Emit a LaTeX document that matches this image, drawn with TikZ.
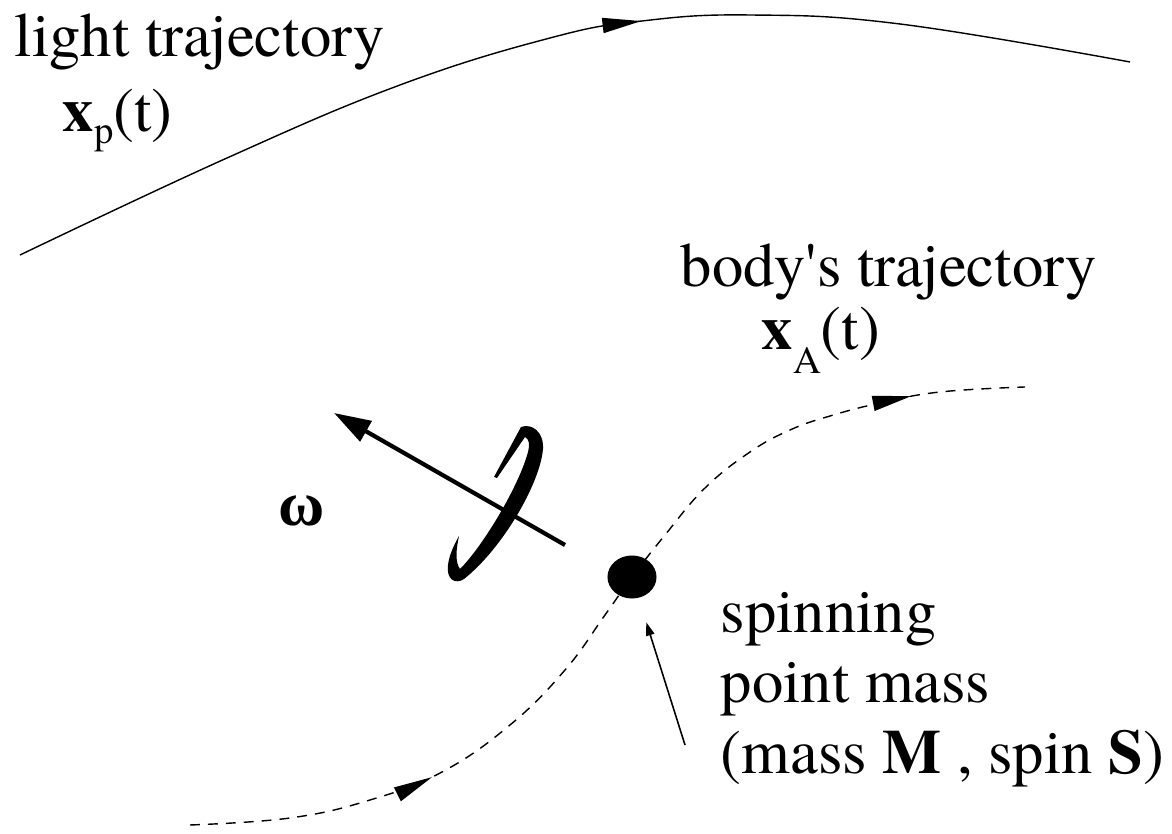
\documentclass[tikz,border=0pt]{standalone}
\usepackage{fontspec}
\setmainfont{texgyretermes}[Extension=.otf, UprightFont=*-regular, BoldFont=*-bold]
\newfontfamily\omegafont{Liberation Serif}
\usepackage{tikz}
\usetikzlibrary{arrows.meta,decorations.markings,shapes.geometric}

\tikzset{
  lbl/.style={inner sep=0pt, anchor=base west, font=\fontsize{17.8}{20}\selectfont},
  traj/.style={black, line width=0.4pt},
  bodytraj/.style={traj, dash pattern=on 2.8pt off 2.3pt},
  midtip/.style={postaction={decorate, decoration={markings,
      mark=at position #1 with {\arrow{Triangle[length=11pt,width=4.3pt]}}}}},
  spinaxis/.style={black, line width=1.2pt, -{Triangle[length=10.5pt,width=6.5pt]}},
  pointer/.style={black, line width=0.45pt, -{Triangle[length=3.8pt,width=2.4pt]}, shorten >=0.25cm},
}

\begin{document}
\begin{tikzpicture}[x=0.01cm, y=-0.01cm]
 \useasboundingbox (0,0) rectangle (1172,834);
% light ray
 \draw[traj, midtip=0.575] plot[smooth, tension=0.7] coordinates
      {(20,255) (227,158) (400,85) (550,38) (642,21) (750,15) (900,24) (1130,62)};
% body's path
 \draw[bodytraj, midtip=0.25, midtip=0.885] plot[smooth, tension=0.7] coordinates
      {(190,825) (290,818) (370,800) (442,772) (510,725) (565,670) (605,615) (632,577)
       (665,535) (705,488) (750,452) (790,430) (830,416) (880,403) (940,392) (1025,387)};
 \node[ellipse, fill=black, inner sep=0pt, minimum width=0.49cm, minimum height=0.43cm] (mass) at (632,577) {};
% rotation sense
 \fill[black] (494,477) -- (521,427) .. controls (532,423) and (544,432) .. (543,449)
      .. controls (540,484) and (502,549) .. (464,579)
      .. controls (455,585) and (446,579) .. (448,565)
      .. controls (449,555) and (455,543) .. (459,536)
      .. controls (456,550) and (455,562) .. (460,569)
      .. controls (483,546) and (519,486) .. (528,452)
      .. controls (530,444) and (529,439) .. (525,437) -- (497,478) -- cycle;
 \coordinate (axtail) at (565,545);
 \coordinate (axtip) at (334,413);
 \draw[spinaxis] (axtail) -- (axtip);
 \node[lbl, anchor=center, font=\fontsize{18}{18}\selectfont\omegafont\bfseries] (omega) at (302,511) {ω};
% labels
 \node[lbl] (light) at (14,57) {light trajectory};
 \node[lbl] (xp) at (62,132) {\textbf{x}\raisebox{-3.4pt}{\fontsize{11}{11}\selectfont p}(t)};
 \node[lbl] (body) at (680,287) {body\textquotesingle s trajectory};
 \node[lbl] (xa) at (761,350) {\textbf{x}\raisebox{-6.8pt}{\fontsize{11}{11}\selectfont A}(t)};
 \node[lbl] (spin) at (720,633) {spinning};
 \node[lbl] (pmass) at (720,703) {point mass};
 \node[lbl] (mparam) at (720,774) {(mass \textbf{M} , spin \textbf{S})};
 \coordinate (ptr) at (685,745);
 \draw[pointer] (ptr) -- (mass);
\end{tikzpicture}
\end{document}
